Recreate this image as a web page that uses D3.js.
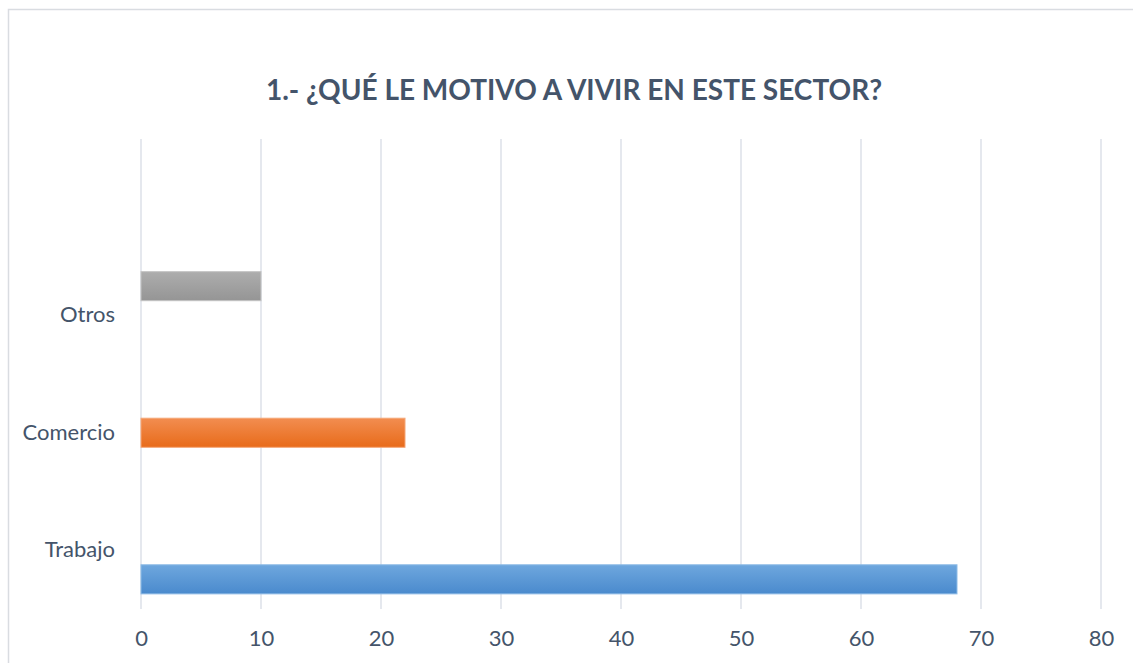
<!DOCTYPE html>
<html>
<head>
<meta charset="utf-8">
<script src="https://cdn.jsdelivr.net/npm/d3@7"></script>
<style>
  html, body { margin: 0; padding: 0; background: #ffffff; }
  svg { display: block; }
</style>
</head>
<body>
<svg id="chart" width="1133" height="663"></svg>
<script>
// ---- data ----
const title = "1.- ¿QUÉ LE MOTIVO A VIVIR EN ESTE SECTOR?";
const categories = ["Trabajo", "Comercio", "Otros", ""];
const seriesNames = ["Serie1", "Serie2", "Serie3"];
const serie1 = [68, null, null, null];
const serie2 = [null, 22, null, null];
const serie3 = [null, null, 10, null];
const xTicks = [0, 10, 20, 30, 40, 50, 60, 70, 80];

const seriesValues = [serie1, serie2, serie3];
const seriesColors = [
  {top: "#6ea7de", bottom: "#4a8acd", stroke: "#8dbbe6"},
  {top: "#f28d50", bottom: "#e86b1a", stroke: "#f5a677"},
  {top: "#adadad", bottom: "#959595", stroke: "#c4c4c4"}
];

const svg = d3.select("#chart");
const W = 1133, H = 663;
const m = {left: 141, right: 32, top: 139, bottom: 54};
const plotW = W - m.left - m.right;
const plotH = H - m.top - m.bottom;

// frame
svg.append("rect")
  .attr("x", 8.5).attr("y", 9.5)
  .attr("width", W + 20).attr("height", H + 20)
  .attr("fill", "#ffffff").attr("stroke", "#d9dce1").attr("stroke-width", 1.5);

// gradients
const defs = svg.append("defs");
seriesColors.forEach((c, i) => {
  const g = defs.append("linearGradient").attr("id", "grad" + i)
    .attr("x1", 0).attr("y1", 0).attr("x2", 0).attr("y2", 1);
  g.append("stop").attr("offset", "0%").attr("stop-color", c.top);
  g.append("stop").attr("offset", "100%").attr("stop-color", c.bottom);
});

const x = d3.scaleLinear().domain([0, 80]).range([m.left, m.left + plotW]);
const y = d3.scaleBand().domain(categories).range([m.top + plotH, m.top]).padding(0);
const yInner = d3.scaleBand().domain([2, 1, 0]).range([0, y.bandwidth()])
  .paddingInner(0).paddingOuter(0.52);

// gridlines
svg.append("g").selectAll("line").data(xTicks).join("line")
  .attr("x1", d => x(d)).attr("x2", d => x(d))
  .attr("y1", m.top).attr("y2", m.top + plotH)
  .attr("stroke", "#dde1e8").attr("stroke-width", 1.5);

// bars
seriesValues.forEach((vals, si) => {
  svg.append("g").selectAll("rect")
    .data(categories.map((c, i) => ({c, v: vals[i]})).filter(d => d.v != null))
    .join("rect")
    .attr("x", x(0))
    .attr("y", d => y(d.c) + yInner(si))
    .attr("width", d => x(d.v) - x(0))
    .attr("height", yInner.bandwidth())
    .attr("fill", "url(#grad" + si + ")")
    .attr("stroke", seriesColors[si].stroke)
    .attr("stroke-width", 1);
});

const fontFam = "Lato, 'Open Sans', sans-serif";
const textColor = "#44546a";

// x axis labels
const xAxis = d3.axisBottom(x).tickValues(xTicks).tickSize(0).tickPadding(21);
const gx = svg.append("g").attr("transform", `translate(0,${m.top + plotH})`).call(xAxis);
gx.select(".domain").remove();
gx.selectAll("text").attr("font-family", fontFam).attr("font-size", 22).attr("fill", textColor);

// y axis labels
const yAxis = d3.axisLeft(y).tickSize(0).tickPadding(26);
const gy = svg.append("g").attr("transform", `translate(${m.left},0)`).call(yAxis);
gy.select(".domain").remove();
gy.selectAll("text").attr("font-family", fontFam).attr("font-size", 22).attr("fill", textColor);

// title
svg.append("text")
  .attr("x", 574).attr("y", 100)
  .attr("text-anchor", "middle")
  .attr("font-family", fontFam).attr("font-weight", "bold")
  .attr("font-size", 28).attr("fill", textColor)
  .text(title);
</script>
</body>
</html>
